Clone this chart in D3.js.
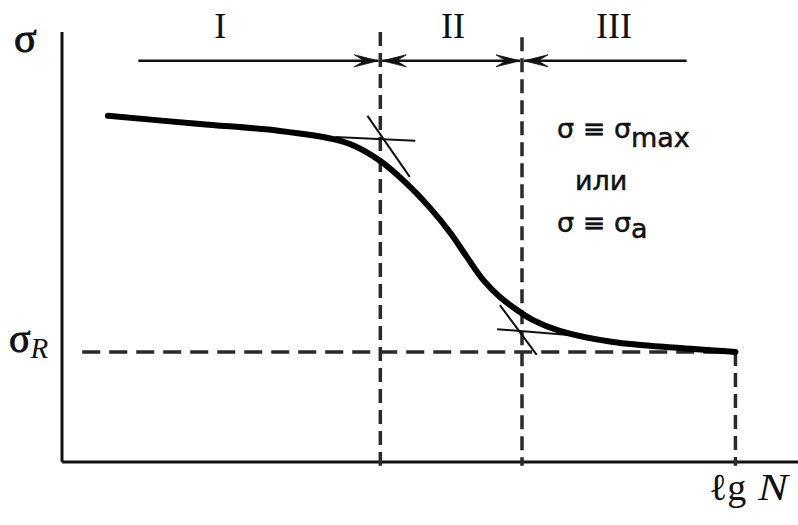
<!DOCTYPE html>
<html>
<head>
<meta charset="utf-8">
<script src="https://cdn.jsdelivr.net/npm/d3@7/dist/d3.min.js"></script>
<style>
  html, body { margin: 0; padding: 0; background: #fff; }
  svg { display: block; }
</style>
</head>
<body>
<svg id="chart" width="798" height="525"></svg>
<script>
// Fatigue (Wöhler) curve: stress amplitude vs. lg N, three regions

// Curve samples: lg N (arbitrary units) and stress level (arbitrary units)
const curveLgN   = [0.50, 1.50, 2.37, 2.95, 3.18, 3.46, 3.73, 4.00, 4.22, 4.40, 4.58, 4.76, 4.95, 5.12, 5.41, 5.99, 6.72, 7.32];
const curveSigma = [8.05, 7.86, 7.70, 7.51, 7.35, 7.00, 6.51, 5.91, 5.33, 4.77, 4.23, 3.84, 3.53, 3.30, 3.05, 2.79, 2.65, 2.56];

// Region boundaries (lg N) and their labels
const regionBounds = [3.46, 5.00];
const regionLabels = ["I", "II", "III"];
const regionLabelLgN = [1.72, 4.25, 6.00];
const boundTopSigma = [10.0, 9.88];

// Range arrows across the top
const arrowFromLgN = 0.83;
const arrowToLgN = 6.79;
const arrowSigma = 9.33;
const labelSigma = 9.86;

// Endurance limit
const sigmaR = 2.56;
const enduranceLgN = 7.32;
const limitFromLgN = 0.22;

// Tangent construction lines at both knees: [lgN1, sigma1, lgN2, sigma2]
const tangentLines = [
  [2.97, 7.56, 3.84, 7.47],
  [3.32, 8.05, 3.78, 6.63],
  [4.76, 3.65, 5.16, 2.49],
  [4.73, 3.09, 5.74, 2.91]
];

// Axes extents
const lgNDomain = [0, 8];
const sigmaDomain = [0, 10];
const axisBottomExtra = -0.09;

const svg = d3.select("#chart");
const x = d3.scaleLinear().domain(lgNDomain).range([62, 798]);
const y = d3.scaleLinear().domain(sigmaDomain).range([462, 32]);

const serif = "'Liberation Serif', 'Times New Roman', serif";
const sans = "'DejaVu Sans', sans-serif";

// Axes
svg.append("line")
  .attr("x1", x(0)).attr("x2", x(0))
  .attr("y1", y(sigmaDomain[1])).attr("y2", y(0))
  .attr("stroke", "#111").attr("stroke-width", 3);
svg.append("line")
  .attr("x1", x(0)).attr("x2", x(lgNDomain[1]))
  .attr("y1", y(0)).attr("y2", y(0))
  .attr("stroke", "#111").attr("stroke-width", 3);

// Dashed guides
const dashed = svg.append("g")
  .attr("stroke", "#2a2a2a").attr("stroke-width", 3.5).attr("fill", "none");
regionBounds.forEach((b, i) => {
  dashed.append("line")
    .attr("x1", x(b)).attr("x2", x(b))
    .attr("y1", y(boundTopSigma[i])).attr("y2", y(axisBottomExtra))
    .attr("stroke-dasharray", "14,7");
});
dashed.append("line")
  .attr("x1", x(enduranceLgN)).attr("x2", x(enduranceLgN))
  .attr("y1", y(sigmaR)).attr("y2", y(axisBottomExtra))
  .attr("stroke-dasharray", "14,7");
dashed.append("line")
  .attr("x1", x(limitFromLgN)).attr("x2", x(enduranceLgN))
  .attr("y1", y(sigmaR)).attr("y2", y(sigmaR))
  .attr("stroke-dasharray", "18,9");

// Tangent lines
svg.append("g").selectAll("line").data(tangentLines).join("line")
  .attr("x1", d => x(d[0])).attr("y1", d => y(d[1]))
  .attr("x2", d => x(d[2])).attr("y2", d => y(d[3]))
  .attr("stroke", "#111").attr("stroke-width", 2);

// Main curve
const pts = curveLgN.map((v, i) => [v, curveSigma[i]]);
svg.append("path")
  .datum(pts)
  .attr("d", d3.line().x(d => x(d[0])).y(d => y(d[1])).curve(d3.curveCatmullRom.alpha(0.5)))
  .attr("fill", "none").attr("stroke", "#000").attr("stroke-width", 6)
  .attr("stroke-linecap", "round").attr("stroke-linejoin", "round");

// Region range arrows
const ay = y(arrowSigma);
const stops = [arrowFromLgN, ...regionBounds, arrowToLgN];
const gap = 2;
const arrows = svg.append("g");
function head(tipX, dir) {
  // dir = +1 points right, -1 points left
  const L = 24, W = 6, N = 14;
  arrows.append("path")
    .attr("d", `M${tipX},${ay} L${tipX - dir * L},${ay - W} L${tipX - dir * N},${ay} L${tipX - dir * L},${ay + W} Z`)
    .attr("fill", "#111").attr("stroke", "#111").attr("stroke-width", 0.8)
    .attr("stroke-linejoin", "miter");
}
for (let i = 0; i < 3; i++) {
  const a = x(stops[i]) + (i > 0 ? gap : 0);
  const b = x(stops[i + 1]) - (i < 2 ? gap : 0);
  arrows.append("line")
    .attr("x1", a).attr("x2", b).attr("y1", ay).attr("y2", ay)
    .attr("stroke", "#111").attr("stroke-width", 2.5);
  if (i > 0) head(a, -1);
  if (i < 2) head(b, 1);
}

// Region labels
svg.append("g").selectAll("text").data(regionLabels).join("text")
  .attr("x", (d, i) => x(regionLabelLgN[i]))
  .attr("y", y(labelSigma))
  .attr("text-anchor", "middle")
  .attr("font-family", serif).attr("font-size", 36)
  .attr("fill", "#111")
  .text(d => d);

// Axis labels
svg.append("text")
  .attr("x", 14).attr("y", 52)
  .attr("font-family", serif).attr("font-size", 42).attr("fill", "#111")
  .attr("stroke", "#111").attr("stroke-width", 0.9)
  .text("σ");

const sr = svg.append("text")
  .attr("x", 9).attr("y", y(sigmaR))
  .attr("font-family", serif).attr("font-size", 40).attr("fill", "#111");
sr.append("tspan").attr("stroke", "#111").attr("stroke-width", 0.9).text("σ");
sr.append("tspan").attr("dy", 6).attr("font-size", 29).attr("font-style", "italic").text("R");

const lgFont = 38;
svg.append("text")
  .attr("x", 709).attr("y", 500)
  .attr("font-family", serif).attr("font-size", lgFont).attr("fill", "#111")
  .text("ℓg");
svg.append("text")
  .attr("x", 788).attr("y", 500).attr("text-anchor", "end")
  .attr("font-family", serif).attr("font-size", lgFont).attr("font-style", "italic").attr("fill", "#111")
  .attr("textLength", 30).attr("lengthAdjust", "spacingAndGlyphs")
  .text("N");

// Stress definition note
const note = svg.append("g")
  .attr("font-family", sans).attr("font-size", 27).attr("fill", "#111")
  .attr("stroke", "#111").attr("stroke-width", 0.5);
const l1 = note.append("text").attr("x", 557).attr("y", 138);
l1.append("tspan").text("σ ≡ σ");
l1.append("tspan").attr("dy", 9).text("max");
note.append("text").attr("x", 575).attr("y", 190).text("или");
const l3 = note.append("text").attr("x", 557).attr("y", 232);
l3.append("tspan").text("σ ≡ σ");
l3.append("tspan").attr("dy", 6).text("a");
</script>
</body>
</html>
